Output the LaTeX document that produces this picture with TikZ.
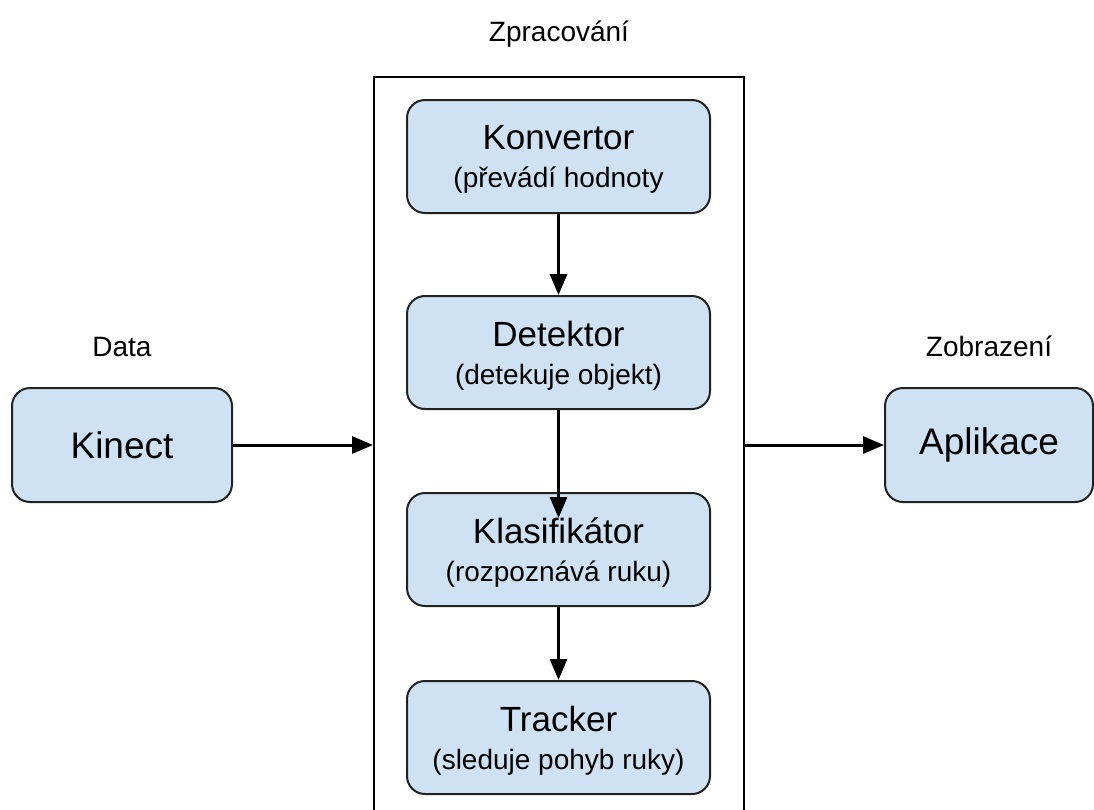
\documentclass[tikz,border=0pt]{standalone}
\usepackage{fontspec}
\setmainfont{Liberation Sans}
\usepackage{tikz}
\usetikzlibrary{arrows.meta,positioning}

\definecolor{boxfill}{HTML}{CFE2F3}
\definecolor{boxline}{HTML}{222222}

\begin{document}
\begin{tikzpicture}[
  x=1pt,y=1pt,
  every node/.style={align=center},
  stage/.style={draw=boxline,fill=boxfill,rounded corners=18pt,line width=2pt,
                minimum width=303pt,minimum height=113pt,inner sep=0pt,
                text depth=0pt,font=\fontsize{28}{38}\selectfont},
  ends/.style={draw=boxline,fill=boxfill,rounded corners=18pt,line width=2pt,
               minimum height=114pt,inner sep=0pt,font=\fontsize{37}{40}\selectfont},
  lbl/.style={inner sep=0pt,text depth=0pt,font=\fontsize{28}{30}\selectfont},
  arr/.style={-{Triangle[length=21pt,width=17pt]},line width=3pt}
]
\useasboundingbox (0,0) rectangle (1094,-809);
% --- processing frame (open at the bottom) ---
\node[draw,line width=2pt,minimum width=370pt,minimum height=800pt,
      anchor=north] (proc) at (559,-76) {};
\node[lbl,above=34pt of proc.north] (proclbl) {Zpracování};
% --- stages inside the frame ---
\node[stage] (konv) at (558.5,-156.5)
  {{\fontsize{35}{38}\selectfont Konvertor}\\(převádí hodnoty};
\node[stage,below=81pt of konv] (det)
  {{\fontsize{35}{38}\selectfont Detektor}\\(detekuje objekt)};
\node[stage,below=82pt of det] (klas)
  {{\fontsize{35}{38}\selectfont Klasifikátor}\\(rozpoznává ruku)};
\node[stage,below=73pt of klas] (trac)
  {{\fontsize{35}{38}\selectfont Tracker}\\(sleduje pohyb ruky)};
\draw[arr] (konv) -- (det);
\draw[arr] (det) -- ([yshift=-26pt]klas.north);
\draw[arr] (klas) -- (trac);
% --- input and output ---
\node[ends,minimum width=220pt] (kin) at (122,-445) {Kinect};
\node[ends,minimum width=208pt] (apl) at (989,-445) {Aplikace};
\node[lbl,above=30pt of kin] (data) {Data};
\node[lbl,above=30pt of apl] (zobr) {Zobrazení};
\draw[arr] (kin) -- (kin -| proc.west);
\draw[arr] (proc.east |- apl) -- (apl);
\end{tikzpicture}
\end{document}
